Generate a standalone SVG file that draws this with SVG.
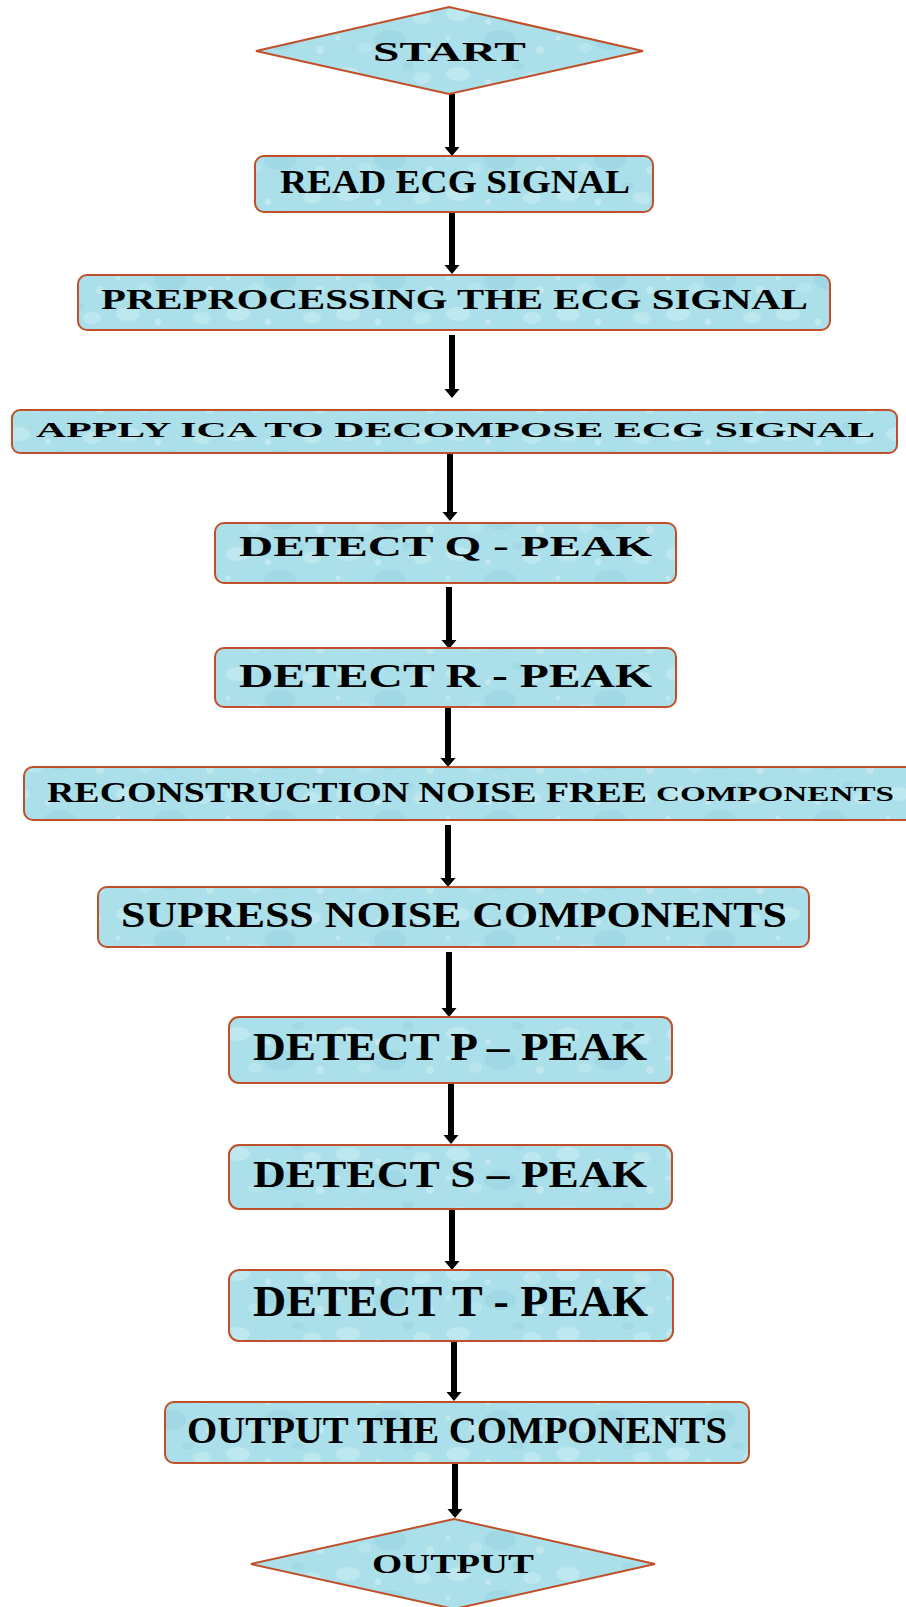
<svg xmlns="http://www.w3.org/2000/svg" width="906" height="1607" viewBox="0 0 906 1607">
<defs>
<pattern id="tex" patternUnits="userSpaceOnUse" width="110" height="60">
<rect width="110" height="60" fill="#abdfe9"/>
<ellipse cx="18" cy="14" rx="12" ry="7" fill="#c9eef4" opacity="0.6"/>
<ellipse cx="60" cy="40" rx="16" ry="10" fill="#8fd0de" opacity="0.4"/>
<ellipse cx="92" cy="18" rx="9" ry="6" fill="#cdf0f5" opacity="0.5"/>
<ellipse cx="35" cy="48" rx="7" ry="5" fill="#c4ecf3" opacity="0.5"/>
<ellipse cx="78" cy="6" rx="6" ry="4" fill="#94d3e0" opacity="0.45"/>
<circle cx="48" cy="22" r="3" fill="#dbf3f7" opacity="0.5"/>
<circle cx="100" cy="50" r="4" fill="#dbf3f7" opacity="0.45"/>
<circle cx="8" cy="38" r="2.5" fill="#dbf3f7" opacity="0.5"/>
</pattern>
<marker id="ah" markerUnits="userSpaceOnUse" markerWidth="12" markerHeight="18" viewBox="0 -9 12 18" refX="0" refY="0" orient="auto">
<path d="M0,-7.5 L9,0 L0,7.5 Z" fill="#000"/>
</marker>
<style>
.box{fill:url(#tex);stroke:#c0502a;stroke-width:2}
.t{font-family:"Liberation Serif","Times New Roman",serif;font-weight:bold;fill:#000}
.c{stroke:#000;stroke-width:6;fill:none;marker-end:url(#ah)}
</style>
</defs>
<g id="connectors">
<line class="c" x1="452" y1="94" x2="452" y2="147"/>
<line class="c" x1="452" y1="212" x2="452" y2="265"/>
<line class="c" x1="452" y1="335" x2="452" y2="389"/>
<line class="c" x1="450" y1="453" x2="450" y2="512"/>
<line class="c" x1="449" y1="587" x2="449" y2="640"/>
<line class="c" x1="448" y1="707" x2="448" y2="758"/>
<line class="c" x1="448" y1="825" x2="448" y2="878"/>
<line class="c" x1="449" y1="952" x2="449" y2="1008"/>
<line class="c" x1="451" y1="1083" x2="451" y2="1135"/>
<line class="c" x1="452" y1="1209" x2="452" y2="1261"/>
<line class="c" x1="454" y1="1341" x2="454" y2="1392"/>
<line class="c" x1="455" y1="1463" x2="455" y2="1509"/>
</g>
<g id="start">
<polygon class="box" points="256,51 449,7 643,51 449,94"/>
<text class="t" x="373" y="61" font-size="28" textLength="153" lengthAdjust="spacingAndGlyphs">START</text>
</g>
<g id="read">
<rect class="box" x="255" y="156" width="398" height="56" rx="9"/>
<text class="t" x="280" y="193" font-size="34" textLength="350" lengthAdjust="spacingAndGlyphs">READ ECG SIGNAL</text>
</g>
<g id="preprocess">
<rect class="box" x="78" y="275" width="752" height="55" rx="9"/>
<text class="t" x="101" y="309" font-size="29" textLength="707" lengthAdjust="spacingAndGlyphs">PREPROCESSING THE ECG SIGNAL</text>
</g>
<g id="ica">
<rect class="box" x="12" y="410" width="885" height="43" rx="8"/>
<text class="t" x="36" y="437" font-size="21" textLength="839" lengthAdjust="spacingAndGlyphs">APPLY ICA TO DECOMPOSE ECG SIGNAL</text>
</g>
<g id="qpeak">
<rect class="box" x="215" y="523" width="461" height="60" rx="9"/>
<text class="t" x="239" y="556" font-size="29" textLength="413" lengthAdjust="spacingAndGlyphs">DETECT Q - PEAK</text>
</g>
<g id="rpeak">
<rect class="box" x="215" y="648" width="461" height="59" rx="9"/>
<text class="t" x="239" y="687" font-size="34" textLength="413" lengthAdjust="spacingAndGlyphs">DETECT R - PEAK</text>
</g>
<g id="reconstruct">
<rect class="box" x="24" y="767" width="895" height="53" rx="9"/>
<text class="t" x="47" y="802" font-size="29" textLength="600" lengthAdjust="spacingAndGlyphs">RECONSTRUCTION NOISE FREE</text>
<text class="t" x="656" y="801" font-size="20" textLength="238" lengthAdjust="spacingAndGlyphs">COMPONENTS</text>
</g>
<g id="suppress">
<rect class="box" x="98" y="887" width="711" height="60" rx="9"/>
<text class="t" x="121" y="927" font-size="36" textLength="666" lengthAdjust="spacingAndGlyphs">SUPRESS NOISE COMPONENTS</text>
</g>
<g id="ppeak">
<rect class="box" x="229" y="1017" width="443" height="66" rx="10"/>
<text class="t" x="253" y="1060" font-size="40" textLength="394" lengthAdjust="spacingAndGlyphs">DETECT P – PEAK</text>
</g>
<g id="speak">
<rect class="box" x="229" y="1145" width="443" height="64" rx="10"/>
<text class="t" x="253" y="1187" font-size="38" textLength="394" lengthAdjust="spacingAndGlyphs">DETECT S – PEAK</text>
</g>
<g id="tpeak">
<rect class="box" x="229" y="1270" width="444" height="71" rx="10"/>
<text class="t" x="253" y="1316" font-size="45" textLength="395" lengthAdjust="spacingAndGlyphs">DETECT T - PEAK</text>
</g>
<g id="outcomp">
<rect class="box" x="165" y="1402" width="584" height="61" rx="9"/>
<text class="t" x="187" y="1443" font-size="38" textLength="540" lengthAdjust="spacingAndGlyphs">OUTPUT THE COMPONENTS</text>
</g>
<g id="output">
<polygon class="box" points="251,1564 454,1519 655,1564 454,1609"/>
<text class="t" x="372" y="1573" font-size="27" textLength="162" lengthAdjust="spacingAndGlyphs">OUTPUT</text>
</g>
</svg>
